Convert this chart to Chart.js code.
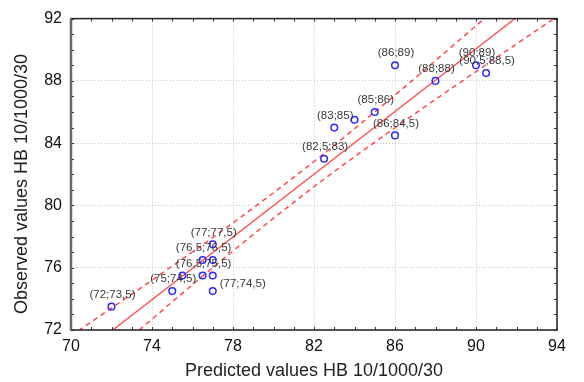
<!DOCTYPE html>
<html>
<head>
<meta charset="utf-8">
<script src="https://cdn.jsdelivr.net/npm/chart.js@4/dist/chart.umd.min.js"></script>
<style>
  body { margin: 0; background: #fff; }
  #wrap { width: 584px; height: 382px; }
</style>
</head>
<body>
<div id="wrap"><canvas id="hbChart" width="584" height="382"></canvas></div>
<script>
// observed vs predicted hardness values
const predicted = [72, 75, 75.5, 76.5, 77, 76.5, 77, 77, 77, 82.5, 83, 84, 85, 86, 86, 88, 90, 90.5];
const observed  = [73.5, 74.5, 75.5, 75.5, 75.5, 76.5, 76.5, 77.5, 74.5, 83, 85, 85.5, 86, 84.5, 89, 88, 89, 88.5];
const pointLabels = ['(72;73,5)', '(75;74,5)', '', '(76,5;75,5)', '', '(76,5;76,5)', '', '(77;77,5)', '(77;74,5)',
    '(82,5;83)', '(83;85)', '', '(85;86)', '(86;84,5)', '(86;89)', '(88;88)', '(90;89)', '(90,5;88,5)'];

// fitted line and confidence band
const fitX = [70, 94];
const fitY = [69.92, 94.09];
const bandX = [70, 74, 78, 82, 86, 90, 94];
const upperY = [71.63, 75.2, 78.88, 82.82, 87.09, 91.54, 96.05];
const lowerY = [68.21, 72.7, 77.08, 81.2, 84.99, 88.6, 92.13];

// axis ticks
const xTicks = [70, 74, 78, 82, 86, 90, 94];
const yTicks = [72, 76, 80, 84, 88, 92];

const FONT = "'Liberation Sans', Arial, sans-serif";
const yTitle = 'Observed values HB 10/1000/30';

function pairs(xs, ys) {
    return xs.map((x, i) => ({ x: x, y: ys[i] }));
}

// frame, small inner ticks, y title and point labels
const decorPlugin = {
    id: 'decor',
    afterDatasetsDraw(chart) {
        const { ctx, chartArea: a, scales: { x, y } } = chart;
        ctx.save();

        // minor ticks every unit, on all four sides
        ctx.strokeStyle = '#333';
        ctx.lineWidth = 1;
        ctx.beginPath();
        for (let v = x.min; v <= x.max; v++) {
            const px = Math.round(x.getPixelForValue(v)) + 0.5;
            ctx.moveTo(px, a.bottom); ctx.lineTo(px, a.bottom - 3);
            ctx.moveTo(px, a.top); ctx.lineTo(px, a.top + 3);
        }
        for (let v = y.min; v <= y.max; v++) {
            const py = Math.round(y.getPixelForValue(v)) + 0.5;
            ctx.moveTo(a.left, py); ctx.lineTo(a.left + 3, py);
            ctx.moveTo(a.right, py); ctx.lineTo(a.right - 3, py);
        }
        ctx.stroke();

        // frame
        ctx.strokeStyle = '#222';
        ctx.lineWidth = 1.5;
        ctx.strokeRect(a.left, a.top, a.right - a.left, a.bottom - a.top);
        ctx.strokeStyle = '#666';
        ctx.lineWidth = 2.5;
        ctx.beginPath();
        ctx.moveTo(a.left, a.top);
        ctx.lineTo(a.left, a.bottom);
        ctx.stroke();

        // y axis title, sits a bit below the middle in the original
        ctx.save();
        ctx.translate(22, 184);
        ctx.rotate(-Math.PI / 2);
        ctx.font = '18px ' + FONT;
        ctx.fillStyle = '#222';
        ctx.textAlign = 'center';
        ctx.textBaseline = 'middle';
        ctx.fillText(yTitle, 0, 0);
        ctx.restore();

        // labels next to the points
        const meta = chart.getDatasetMeta(0);
        ctx.font = '11.5px ' + FONT;
        ctx.fillStyle = '#3a3a3a';
        ctx.textBaseline = 'middle';
        meta.data.forEach((pt, i) => {
            const txt = pointLabels[i];
            if (!txt) return;
            if (txt === '(77;74,5)') {
                ctx.textAlign = 'left';
                ctx.fillText(txt, pt.x + 7, pt.y - 7);
            } else {
                ctx.textAlign = 'center';
                ctx.fillText(txt, pt.x + 1, pt.y - 12);
            }
        });
        ctx.restore();
    }
};

const ctx = document.getElementById('hbChart').getContext('2d');
const hbChart = new Chart(ctx, {
    type: 'scatter',
    data: {
        datasets: [{
            label: 'Observed',
            data: pairs(predicted, observed),
            pointStyle: 'circle',
            pointRadius: 3.3,
            pointBorderWidth: 1.5,
            borderColor: '#2b2bff',
            backgroundColor: 'rgba(255,255,255,0)',
            showLine: false
        }, {
            label: 'Fit',
            data: pairs(fitX, fitY),
            showLine: true,
            borderColor: '#ff4a4a',
            borderWidth: 1.3,
            pointRadius: 0
        }, {
            label: 'Upper',
            data: pairs(bandX, upperY),
            showLine: true,
            borderColor: '#ff4a4a',
            borderWidth: 1.5,
            borderDash: [5, 4],
            cubicInterpolationMode: 'monotone',
            pointRadius: 0
        }, {
            label: 'Lower',
            data: pairs(bandX, lowerY),
            showLine: true,
            borderColor: '#ff4a4a',
            borderWidth: 1.5,
            borderDash: [5, 4],
            cubicInterpolationMode: 'monotone',
            pointRadius: 0
        }]
    },
    options: {
        responsive: false,
        animation: false,
        layout: {
            padding: { top: 8, right: 27, left: 0, bottom: 0 }
        },
        plugins: {
            legend: { display: false },
            tooltip: { enabled: false }
        },
        scales: {
            x: {
                type: 'linear',
                min: 70,
                max: 94,
                afterBuildTicks: s => { s.ticks = xTicks.map(v => ({ value: v })); },
                afterFit: s => { s.height = 52; },
                grid: { color: '#c4c4c4', lineWidth: 1, drawTicks: false },
                border: { display: false, dash: [1, 2] },
                ticks: {
                    padding: 7,
                    color: '#111',
                    font: { family: FONT, size: 16 }
                },
                title: {
                    display: true,
                    text: 'Predicted values HB 10/1000/30',
                    color: '#222',
                    font: { family: FONT, size: 18 },
                    padding: { top: 0, bottom: 0 }
                }
            },
            y: {
                type: 'linear',
                min: 72,
                max: 92,
                afterBuildTicks: s => { s.ticks = yTicks.map(v => ({ value: v })); },
                afterFit: s => { s.width = 71; },
                grid: { color: '#c4c4c4', lineWidth: 1, drawTicks: false },
                border: { display: false, dash: [1, 2] },
                ticks: {
                    padding: 9,
                    color: '#111',
                    font: { family: FONT, size: 16 }
                },
                title: { display: false }
            }
        }
    },
    plugins: [decorPlugin]
});
</script>
</body>
</html>
